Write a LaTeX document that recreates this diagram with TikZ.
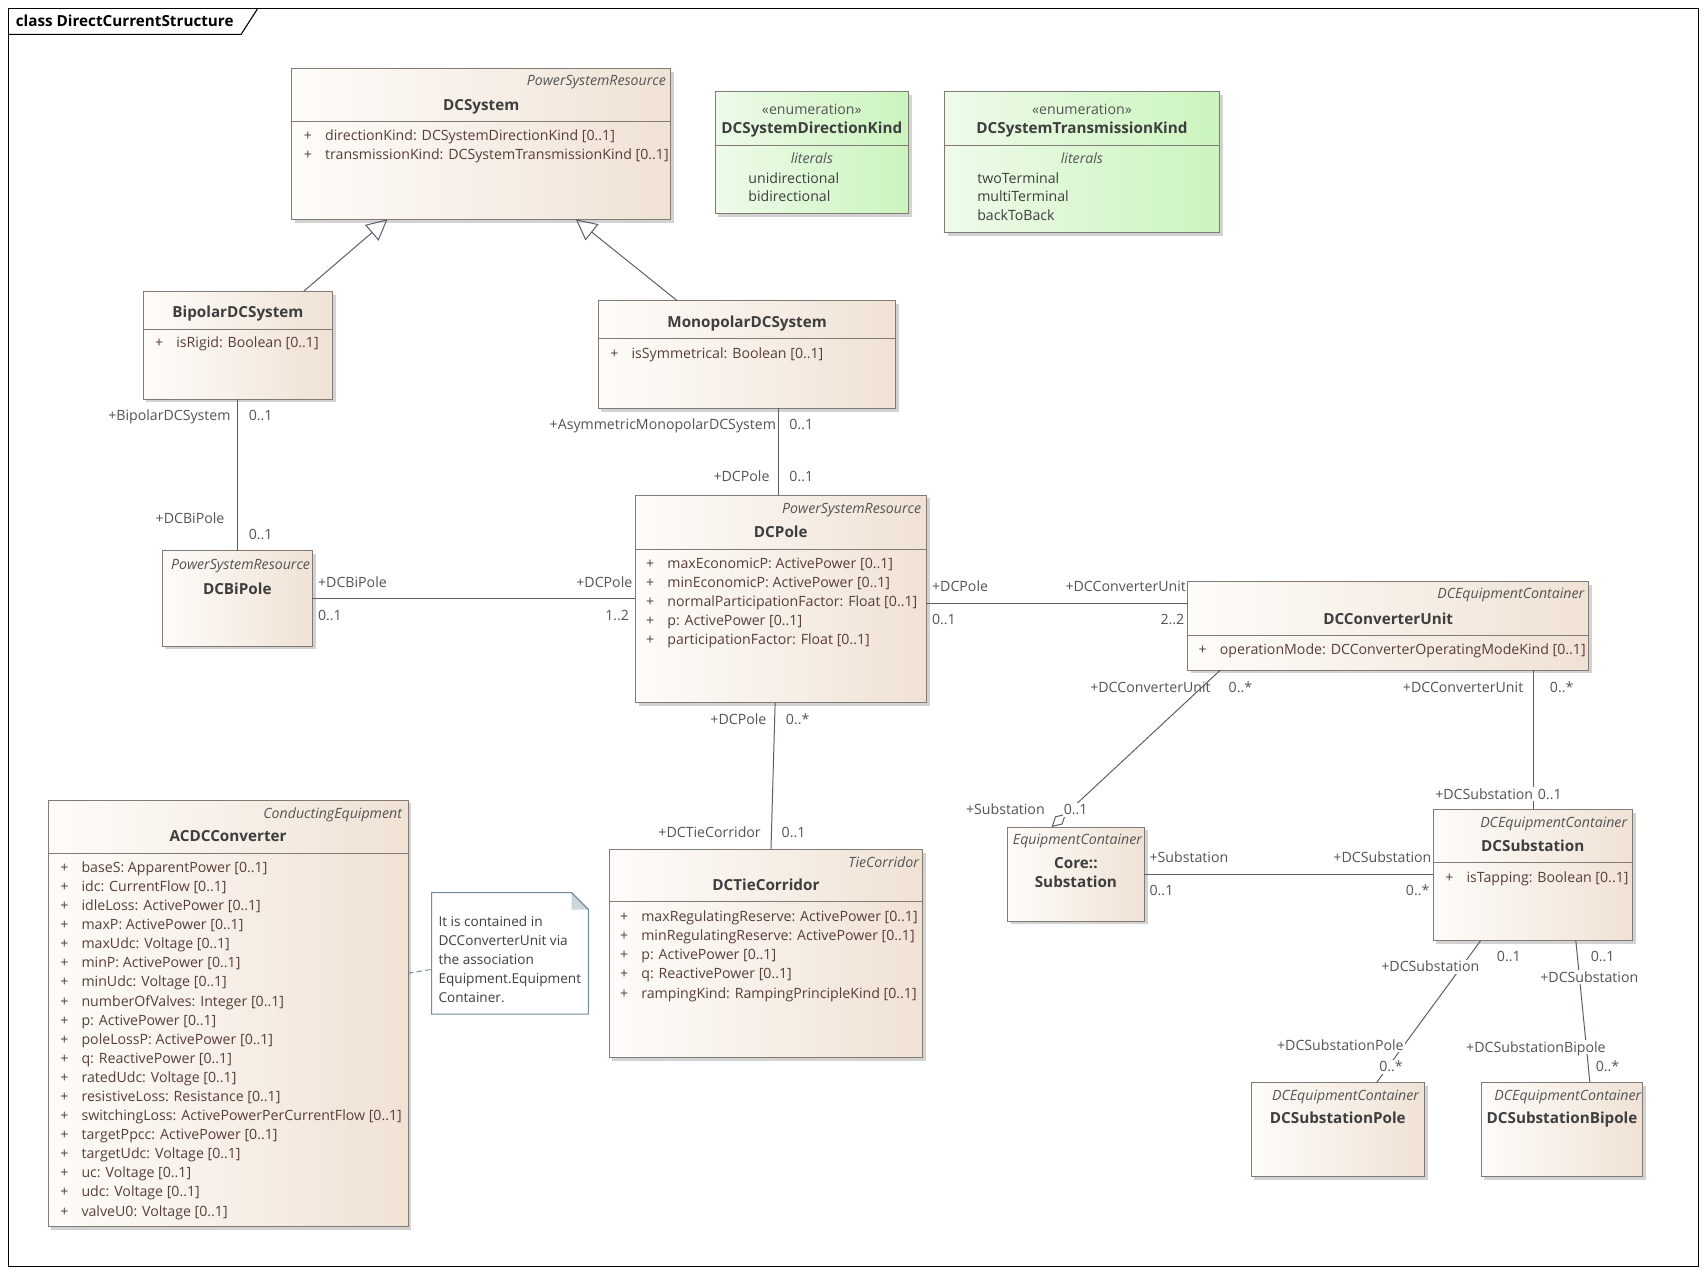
\documentclass[tikz,border=0pt]{standalone}
\usepackage{fontspec}
\setmainfont{Open Sans}
\usetikzlibrary{positioning,arrows.meta,shadows}

\definecolor{clsleft}{RGB}{254,252,249}
\definecolor{clsright}{RGB}{240,226,213}
\definecolor{enumleft}{RGB}{238,251,234}
\definecolor{enumright}{RGB}{203,244,190}
\definecolor{boxline}{RGB}{130,122,116}
\definecolor{assocline}{RGB}{88,94,104}
\definecolor{nametext}{RGB}{62,62,62}
\definecolor{attrtext}{RGB}{88,62,56}
\definecolor{stereotext}{RGB}{84,84,84}
\definecolor{roletext}{RGB}{84,84,84}
\definecolor{noteline}{RGB}{112,140,154}
\definecolor{notefold}{RGB}{204,214,220}

\newcommand{\attrplus}{\makebox[19.5pt][l]{+}}

\tikzset{
  cls/.style={draw=boxline, line width=0.9pt, left color=clsleft, right color=clsright,
    inner sep=0pt, outer sep=0pt,
    drop shadow={shadow xshift=3pt, shadow yshift=-3pt, fill=black!35, opacity=0.5}},
  enumbox/.style={cls, left color=enumleft, right color=enumright},
  compart/.style={draw=boxline, line width=0.9pt},
  stereo/.style={font=\fontsize{13}{15}\selectfont\itshape, text=stereotext,
    inner sep=0pt, text height=9pt, text depth=0pt},
  cname/.style={font=\fontsize{14}{16}\selectfont\bfseries, text=nametext,
    inner sep=0pt, text height=10pt, text depth=0pt},
  attr/.style={font=\fontsize{13}{15}\selectfont, text=attrtext, inner sep=0pt,
    anchor=west, text height=9pt, text depth=0pt},
  lit/.style={attr, text=nametext},
  notetxt/.style={lit, font=\fontsize{12.5}{15}\selectfont},
  role/.style={font=\fontsize{13}{15}\selectfont, text=roletext, inner sep=0pt,
    text height=9pt, text depth=0pt},
  rolebg/.style={role, fill=white, inner xsep=1pt, inner ysep=2pt},
  assoc/.style={draw=assocline, line width=0.9pt},
  generalize/.style={assoc, -{Triangle[open, length=19pt, width=19pt]}},
  aggregate/.style={assoc, -{Diamond[open, length=18pt, width=10pt]}},
  notelink/.style={draw=noteline, line width=0.9pt, dash pattern=on 5pt off 3pt},
}

\begin{document}
\begin{tikzpicture}[x=1pt, y=-1pt]
\fill[white] (0,0) rectangle (1568,1171);
\useasboundingbox (0,0) rectangle (1568,1171);

% diagram frame
\draw[line width=1pt] (8,8) rectangle (1560,1163);
\draw[line width=1pt] (8,31.5) -- (221.5,31.5) -- (236.6,8);
\node[anchor=west, inner sep=0pt, font=\fontsize{14}{16}\selectfont\bfseries] (title)
  at (14.4,19.3) {class DirectCurrentStructure};

% DCSystem
\node[cls, minimum width=348, minimum height=138.5] (dcsystem) at (442,132.25) {};
\draw[compart] (dcsystem.west |- 0,111.5) -- (dcsystem.east |- 0,111.5);
\node[stereo, anchor=east] (dcsystem-st) at (611.8,74.4) {PowerSystemResource};
\node[cname] (dcsystem-nm) at (442,96.5) {DCSystem};
\node[attr] (dcsystem-a1) at (279,124.9) {\attrplus directionKind: DCSystemDirectionKind [0..1]};
\node[attr] (dcsystem-a2) at (279,142.4) {\attrplus transmissionKind: DCSystemTransmissionKind [0..1]};

% enumerations
\node[enumbox, minimum width=177.8, minimum height=111.8] (dirkind) at (745.7,140.1) {};
\draw[compart] (dirkind.west |- 0,133.5) -- (dirkind.east |- 0,133.5);
\node[role] (dirkind-st) at (745.7,101) {«enumeration»};
\node[cname] (dirkind-nm) at (745.7,117.9) {DCSystemDirectionKind};
\node[stereo] (dirkind-lt) at (745.7,146) {literals};
\foreach \txt [count=\i] in {unidirectional, bidirectional}
  \node[lit] (dirkind-l\i) at (687.3,146.9+16.9*\i) {\txt};

\node[enumbox, minimum width=252.9, minimum height=129.2,
  right=32.8pt of dirkind.north east, anchor=north west] (transkind) {};
\draw[compart] (transkind.west |- 0,133.5) -- (transkind.east |- 0,133.5);
\node[role] (transkind-st) at (993.85,101) {«enumeration»};
\node[cname] (transkind-nm) at (993.85,117.9) {DCSystemTransmissionKind};
\node[stereo] (transkind-lt) at (993.85,146) {literals};
\foreach \txt [count=\i] in {twoTerminal, multiTerminal, backToBack}
  \node[lit] (transkind-l\i) at (897.5,146.7+17.1*\i) {\txt};

% BipolarDCSystem
\node[cls, minimum width=174, minimum height=98.9] (bipolar) at (218.5,317.05) {};
\draw[compart] (bipolar.west |- 0,302.5) -- (bipolar.east |- 0,302.5);
\node[cname] (bipolar-nm) at (218.5,286.6) {BipolarDCSystem};
\node[attr] (bipolar-a1) at (142.3,314.8) {\attrplus isRigid: Boolean [0..1]};

% MonopolarDCSystem
\node[cls, minimum width=273.5, minimum height=98.9] (mono) at (686.25,325.65) {};
\draw[compart] (mono.west |- 0,310.8) -- (mono.east |- 0,310.8);
\node[cname] (mono-nm) at (686.25,295.5) {MonopolarDCSystem};
\node[attr] (mono-a1) at (560.5,324.6) {\attrplus isSymmetrical: Boolean [0..1]};

% DCPole
\node[cls, minimum width=267.2, minimum height=190.8] (dcpole) at (717.2,550.1) {};
\draw[compart] (dcpole.west |- 0,504.6) -- (dcpole.east |- 0,504.6);
\node[stereo, anchor=east] (dcpole-st) at (846.3,467.6) {PowerSystemResource};
\node[cname] (dcpole-nm) at (717.2,489) {DCPole};
\foreach \txt [count=\i from 0] in {{maxEconomicP: ActivePower [0..1]},
    {minEconomicP: ActivePower [0..1]}, {normalParticipationFactor: Float [0..1]},
    {p: ActivePower [0..1]}, {participationFactor: Float [0..1]}}
  \node[attr] (dcpole-a\i) at (593.3,517.5+17.6*\i) {\attrplus\txt};

% DCBiPole
\node[cls, minimum width=138.1, minimum height=87.4] (dcbipole) at (217.95,549.7) {};
\node[stereo, anchor=east] (dcbipole-st) at (285,518.4) {PowerSystemResource};
\node[cname] (dcbipole-nm) at (217.95,540.8) {DCBiPole};

% DCConverterUnit
\node[cls, minimum width=368.7, minimum height=81.5] (conv) at (1275.15,574.75) {};
\draw[compart] (conv.west |- 0,583.3) -- (conv.east |- 0,583.3);
\node[stereo, anchor=east] (conv-st) at (1455.4,545.7) {DCEquipmentContainer};
\node[cname] (conv-nm) at (1275.15,568.6) {DCConverterUnit};
\node[attr] (conv-a1) at (1100.8,597) {\attrplus operationMode: DCConverterOperatingModeKind [0..1]};

% ACDCConverter
\node[cls, minimum width=330.5, minimum height=391.9] (acdc) at (209.55,930.85) {};
\draw[compart] (acdc.west |- 0,783.9) -- (acdc.east |- 0,783.9);
\node[stereo, anchor=east] (acdc-st) at (369.4,747.1) {ConductingEquipment};
\node[cname] (acdc-nm) at (209.55,768) {ACDCConverter};
\foreach \txt [count=\i from 0] in {{baseS: ApparentPower [0..1]}, {idc: CurrentFlow [0..1]},
    {idleLoss: ActivePower [0..1]}, {maxP: ActivePower [0..1]}, {maxUdc: Voltage [0..1]},
    {minP: ActivePower [0..1]}, {minUdc: Voltage [0..1]}, {numberOfValves: Integer [0..1]},
    {p: ActivePower [0..1]}, {poleLossP: ActivePower [0..1]}, {q: ReactivePower [0..1]},
    {ratedUdc: Voltage [0..1]}, {resistiveLoss: Resistance [0..1]},
    {switchingLoss: ActivePowerPerCurrentFlow [0..1]}, {targetPpcc: ActivePower [0..1]},
    {targetUdc: Voltage [0..1]}, {uc: Voltage [0..1]}, {udc: Voltage [0..1]},
    {valveU0: Voltage [0..1]}}
  \node[attr] (acdc-a\i) at (55.2,796.8+17.54*\i) {\attrplus\txt};

% note
\node[minimum width=144, minimum height=111.5, inner sep=0pt, outer sep=0pt] (note) at (468.5,875.75) {};
\draw[draw=noteline, line width=0.9pt, fill=white] (note.north west)
  -- ([xshift=-15.5pt]note.north east) -- ([yshift=-15.5pt]note.north east)
  -- (note.south east) -- (note.south west) -- cycle;
\fill[notefold] ([xshift=-15.5pt]note.north east) -- ([xshift=-15.5pt, yshift=-15.5pt]note.north east)
  -- ([yshift=-15.5pt]note.north east) -- cycle;
\draw[draw=noteline, line width=0.9pt] ([xshift=-15.5pt]note.north east) -- ([yshift=-15.5pt]note.north east);
\foreach \txt [count=\i from 0] in {It is contained in, DCConverterUnit via, the association,
    Equipment.Equipment, Container.}
  \node[notetxt] (note-l\i) at (402.6,846.7+17.4*\i) {\txt};

% DCTieCorridor
\node[cls, minimum width=287.9, minimum height=191.1] (tie) at (703.55,875.75) {};
\draw[compart] (tie.west |- 0,828.3) -- (tie.east |- 0,828.3);
\node[stereo, anchor=east] (tie-st) at (844.3,792.2) {TieCorridor};
\node[cname] (tie-nm) at (703.55,813) {DCTieCorridor};
\foreach \txt [count=\i from 0] in {{maxRegulatingReserve: ActivePower [0..1]},
    {minRegulatingReserve: ActivePower [0..1]}, {p: ActivePower [0..1]},
    {q: ReactivePower [0..1]}, {rampingKind: RampingPrincipleKind [0..1]}}
  \node[attr] (tie-a\i) at (569.4,841.5+17.75*\i) {\attrplus\txt};

% Core::Substation
\node[cls, minimum width=125.8, minimum height=86.3] (coresub) at (988.3,802.85) {};
\node[stereo, anchor=east] (coresub-st) at (1049.2,771.6) {EquipmentContainer};
\node[cname] (coresub-nm) at (988.3,793) {Core::};
\node[cname] (coresub-nm2) at (988.3,810.2) {Substation};

% DCSubstation
\node[cls, minimum width=183, minimum height=120.6] (dcsub) at (1407.9,803.8) {};
\draw[compart] (dcsub.west |- 0,792.1) -- (dcsub.east |- 0,792.1);
\node[stereo, anchor=east] (dcsub-st) at (1494.8,755.4) {DCEquipmentContainer};
\node[cname] (dcsub-nm) at (1407.9,776.9) {DCSubstation};
\node[attr] (dcsub-a1) at (1327.4,806) {\attrplus isTapping: Boolean [0..1]};

% DCSubstationPole, DCSubstationBipole
\node[cls, minimum width=159.4, minimum height=86.7] (subpole) at (1228.9,1037.55) {};
\node[stereo, anchor=east] (subpole-st) at (1303.6,1006.5) {DCEquipmentContainer};
\node[cname] (subpole-nm) at (1228.9,1026.7) {DCSubstationPole};
\node[cls, minimum width=148.6, minimum height=86.7, right=51.9pt of subpole] (subbipole) {};
\node[stereo, anchor=east] (subbipole-st) at (1507.8,1006.5) {DCEquipmentContainer};
\node[cname] (subbipole-nm) at (1434.8,1026.7) {DCSubstationBipole};

% generalizations
\draw[generalize] (bipolar.north -| 278.9,0) -- (dcsystem.south -| 355.9,0);
\draw[generalize] (mono.north -| 622,0) -- (dcsystem.south -| 529,0);

% associations
\draw[assoc] (bipolar.south) -- (bipolar.south |- dcbipole.north);
\draw[assoc] (mono.south -| 715,0) -- (dcpole.north -| 715,0);
\draw[assoc] (dcbipole.east) -- (dcbipole.east -| dcpole.west);
\draw[assoc] (dcpole.east |- 0,554.2) -- (conv.west |- 0,554.2);
\draw[assoc] (dcpole.south -| 712,0) -- (tie.north -| 708.2,0);
\draw[aggregate] (conv.south -| 1121,0) -- (coresub.north -| 966,0);
\draw[assoc] (conv.south -| 1409,0) -- (dcsub.north -| 1409,0);
\draw[assoc] (coresub.east) -- (coresub.east -| dcsub.west);
\draw[assoc] (dcsub.south -| 1360,0) -- (subpole.north -| 1264.6,0);
\draw[assoc] (dcsub.south -| 1447.5,0) -- (subbipole.north -| 1460.4,0);
\draw[notelink] (acdc.east |- 0,894) -- (note.west |- 0,890.4);

% role names and multiplicities
\node[role, anchor=east] (ra1) at (212,382.1) {+BipolarDCSystem};
\node[role, anchor=west] (ra2) at (228.4,382.1) {0..1};
\node[role, anchor=east] (ra3) at (206.3,476.1) {+DCBiPole};
\node[role, anchor=west] (ra4) at (228.4,491.5) {0..1};

\node[role, anchor=east] (rb1) at (713,390) {+AsymmetricMonopolarDCSystem};
\node[role, anchor=west] (rb2) at (725,390) {0..1};
\node[role, anchor=east] (rb3) at (707,438) {+DCPole};
\node[role, anchor=west] (rb4) at (725,438) {0..1};

\node[role, anchor=west] (rc1) at (292,535) {+DCBiPole};
\node[role, anchor=west] (rc2) at (292,565.9) {0..1};
\node[role, anchor=east] (rc3) at (581,535) {+DCPole};
\node[role, anchor=east] (rc4) at (578,565.9) {1..2};

\node[role, anchor=west] (rd1) at (856,539) {+DCPole};
\node[role, anchor=west] (rd2) at (856,569.5) {0..1};
\node[role, anchor=east] (rd3) at (1089.5,539) {+DCConverterUnit};
\node[role, anchor=east] (rd4) at (1088,569.5) {2..2};

\node[role, anchor=east] (re1) at (704.2,661.4) {+DCPole};
\node[role, anchor=west] (re2) at (721.7,661.4) {0..*};
\node[role, anchor=east] (re3) at (699,764.6) {+DCTieCorridor};
\node[role, anchor=west] (re4) at (717.8,764.6) {0..1};

\node[role, anchor=east] (rf1) at (1112.2,631.4) {+DCConverterUnit};
\node[role, anchor=west] (rf2) at (1128.4,631.4) {0..*};
\node[role, anchor=east] (rf3) at (959.8,744.1) {+Substation};
\node[rolebg, anchor=west] (rf4) at (976,744.1) {0..1};

\node[role, anchor=east] (rg1) at (1399.4,631.4) {+DCConverterUnit};
\node[role, anchor=west] (rg2) at (1423.5,631.4) {0..*};
\node[rolebg, anchor=east] (rg3) at (1409.5,729.7) {+DCSubstation};
\node[role, anchor=west] (rg4) at (1412.5,729.7) {0..1};

\node[role, anchor=west] (rh1) at (1055.8,788.2) {+Substation};
\node[role, anchor=west] (rh2) at (1055.8,818.5) {0..1};
\node[role, anchor=east] (rh3) at (1315,788.2) {+DCSubstation};
\node[role, anchor=east] (rh4) at (1313.2,818.5) {0..*};

\node[rolebg, anchor=east] (ri1) at (1360,888) {+DCSubstation};
\node[role, anchor=west] (ri2) at (1374.8,878.8) {0..1};
\node[rolebg, anchor=east] (ri3) at (1290.5,960) {+DCSubstationPole};
\node[rolebg, anchor=west] (ri4) at (1265.8,979.9) {0..*};

\node[role, anchor=west] (rj1) at (1461,878.8) {0..1};
\node[rolebg, anchor=west] (rj2) at (1413.7,897.8) {+DCSubstation};
\node[rolebg, anchor=west] (rj3) at (1345.6,962) {+DCSubstationBipole};
\node[role, anchor=west] (rj4) at (1465.7,979.9) {0..*};
\end{tikzpicture}
\end{document}
